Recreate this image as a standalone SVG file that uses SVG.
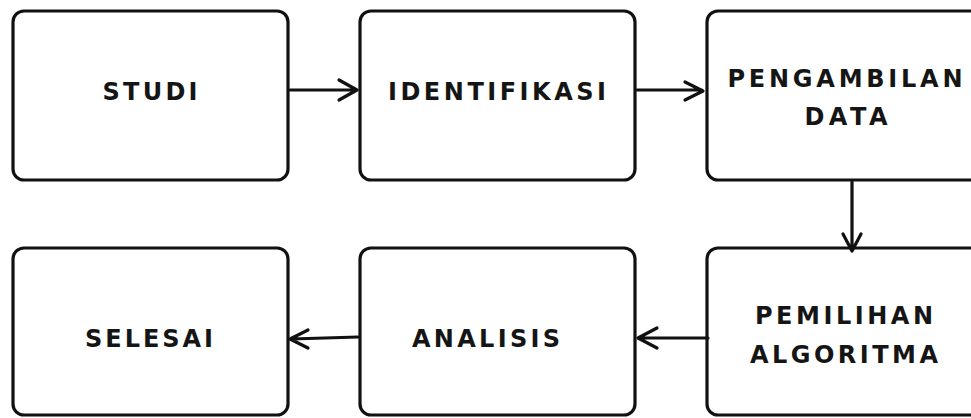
<svg xmlns="http://www.w3.org/2000/svg" width="971" height="418" viewBox="0 0 971 418">
<style>
.box{fill:#fff;stroke:#111;stroke-width:3.2}
.t{font-family:"DejaVu Sans","Open Sans","Liberation Sans",sans-serif;font-weight:700;font-size:24px;fill:#151515;text-anchor:middle}
.c{fill:none;stroke:#111;stroke-width:3.2;stroke-linecap:round;stroke-linejoin:round}
</style>
<rect width="971" height="418" fill="#fff"/>
<g id="studi"><rect class="box" x="13" y="11" width="275" height="169" rx="11"/><text class="t" x="150" y="100" textLength="95" lengthAdjust="spacing">STUDI</text></g>
<g id="identifikasi"><rect class="box" x="360" y="11" width="275" height="169" rx="11"/><text class="t" x="497" y="100" textLength="218" lengthAdjust="spacing">IDENTIFIKASI</text></g>
<g id="pengambilan"><rect class="box" x="707" y="11" width="275" height="169" rx="11"/><text class="t" x="845" y="87" textLength="235" lengthAdjust="spacing">PENGAMBILAN</text><text class="t" x="846" y="125" textLength="83" lengthAdjust="spacing">DATA</text></g>
<g id="pemilihan"><rect class="box" x="707" y="248" width="275" height="167" rx="11"/><text class="t" x="844" y="324" textLength="178" lengthAdjust="spacing">PEMILIHAN</text><text class="t" x="844" y="363" textLength="188" lengthAdjust="spacing">ALGORITMA</text></g>
<g id="analisis"><rect class="box" x="360" y="248" width="275" height="167" rx="11"/><text class="t" x="486" y="347" textLength="148" lengthAdjust="spacing">ANALISIS</text></g>
<g id="selesai"><rect class="box" x="13" y="248" width="275" height="167" rx="11"/><text class="t" x="149" y="347" textLength="128" lengthAdjust="spacing">SELESAI</text></g>
<g id="connectors">
<path class="c" d="M290 90H356M339 80L357 90L339 100"/>
<path class="c" d="M637 90H702M685 82L703 91L685 100"/>
<path class="c" d="M852 182V250M843 234L852 251L861 234"/>
<path class="c" d="M708 338H640M657 328L638 338L657 348"/>
<path class="c" d="M358 337L291 339M308 330L290 339L308 348"/>
</g>
</svg>
